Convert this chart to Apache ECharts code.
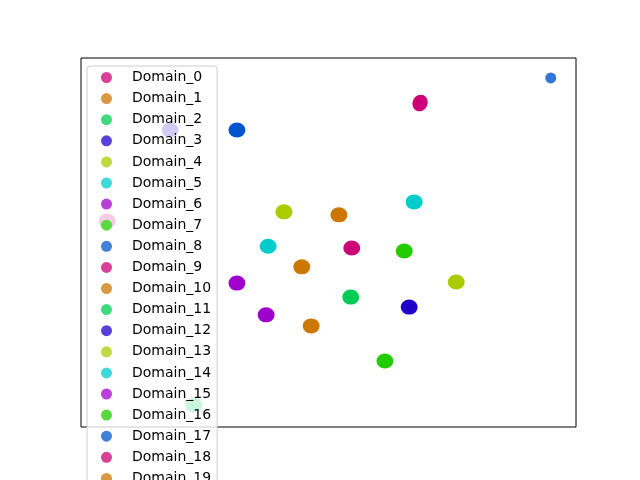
<!DOCTYPE html>
<html>
<head>
<meta charset="utf-8">
<script src="https://cdn.jsdelivr.net/npm/echarts@6/dist/echarts.min.js"></script>
<style>html,body{margin:0;padding:0;background:#fff;}#c{width:640px;height:480px;}</style>
</head>
<body>
<div id="c"></div>
<script>
// Data (arbitrary embedding units)
const domains = ['Domain_0','Domain_1','Domain_2','Domain_3','Domain_4','Domain_5','Domain_6','Domain_7','Domain_8','Domain_9',
  'Domain_10','Domain_11','Domain_12','Domain_13','Domain_14','Domain_15','Domain_16','Domain_17','Domain_18','Domain_19'];
const xValues = [68.5, 52.1, 54.5, 66.3, 41.0, 67.3, 31.5, 65.3, 31.5, 54.7,
  44.6, 22.8, 18.0, 75.8, 37.8, 37.4, 61.4, 94.9, 5.3, 46.5];
const yValues = [87.8, 57.5, 35.2, 32.5, 58.3, 61.0, 39.0, 47.7, 80.5, 48.5,
  43.4, 6.0, 80.5, 39.3, 49.0, 30.4, 17.9, 94.6, 55.8, 27.4];

// Styles
const baseColors = ['#cc0077','#cc7700','#00cc55','#2200cc','#aacc00','#00cccc','#a000cc','#22cc00','#0055cc'];
const legendColors = ['#d94099','#d99940','#40d980','#5940d9','#bfd940','#40d9d9','#b840d9','#59d940','#4080d9'];

const series = domains.map((name, i) => ({
  name: name,
  type: 'scatter',
  data: [[xValues[i], yValues[i]]],
  symbol: 'circle',
  symbolSize: i === 17 ? 11 : (i === 0 ? [15, 17] : [17, 15]),
  symbolRotate: i === 0 ? -25 : 0,
  itemStyle: { color: baseColors[i % 9], opacity: i === 17 ? 0.8 : 1 },
  emphasis: { disabled: true },
  z: 2
}));

const chart = echarts.init(document.getElementById('c'), null, { renderer: 'canvas' });
chart.setOption({
  animation: false,
  backgroundColor: '#fff',
  grid: { left: 81, top: 58, width: 495, height: 369, show: true, borderColor: '#000', borderWidth: 1, backgroundColor: 'transparent' },
  xAxis: { type: 'value', min: 0, max: 100, axisLine: { show: false }, axisTick: { show: false }, axisLabel: { show: false }, splitLine: { show: false } },
  yAxis: { type: 'value', min: 0, max: 100, axisLine: { show: false }, axisTick: { show: false }, axisLabel: { show: false }, splitLine: { show: false } },
  legend: {
    orient: 'vertical',
    left: 87,
    top: 66,
    height: 440,
    padding: [4, 6, 4, 14],
    itemWidth: 11,
    itemHeight: 11,
    itemGap: 6.1,
    itemTextGap: 5,
    icon: 'circle',
    backgroundColor: 'rgba(255,255,255,0.8)',
    borderColor: '#cccccc',
    borderWidth: 1,
    borderRadius: 3,
    textStyle: { fontFamily: 'DejaVu Sans', fontSize: 14, color: '#000', lineHeight: 15, padding: [0, 0, 0, 15] },
    data: domains.map((name, i) => ({ name: name, icon: 'circle', itemStyle: { color: legendColors[i % 9], opacity: 1 } })),
    z: 10
  },
  series: series
});
</script>
</body>
</html>
